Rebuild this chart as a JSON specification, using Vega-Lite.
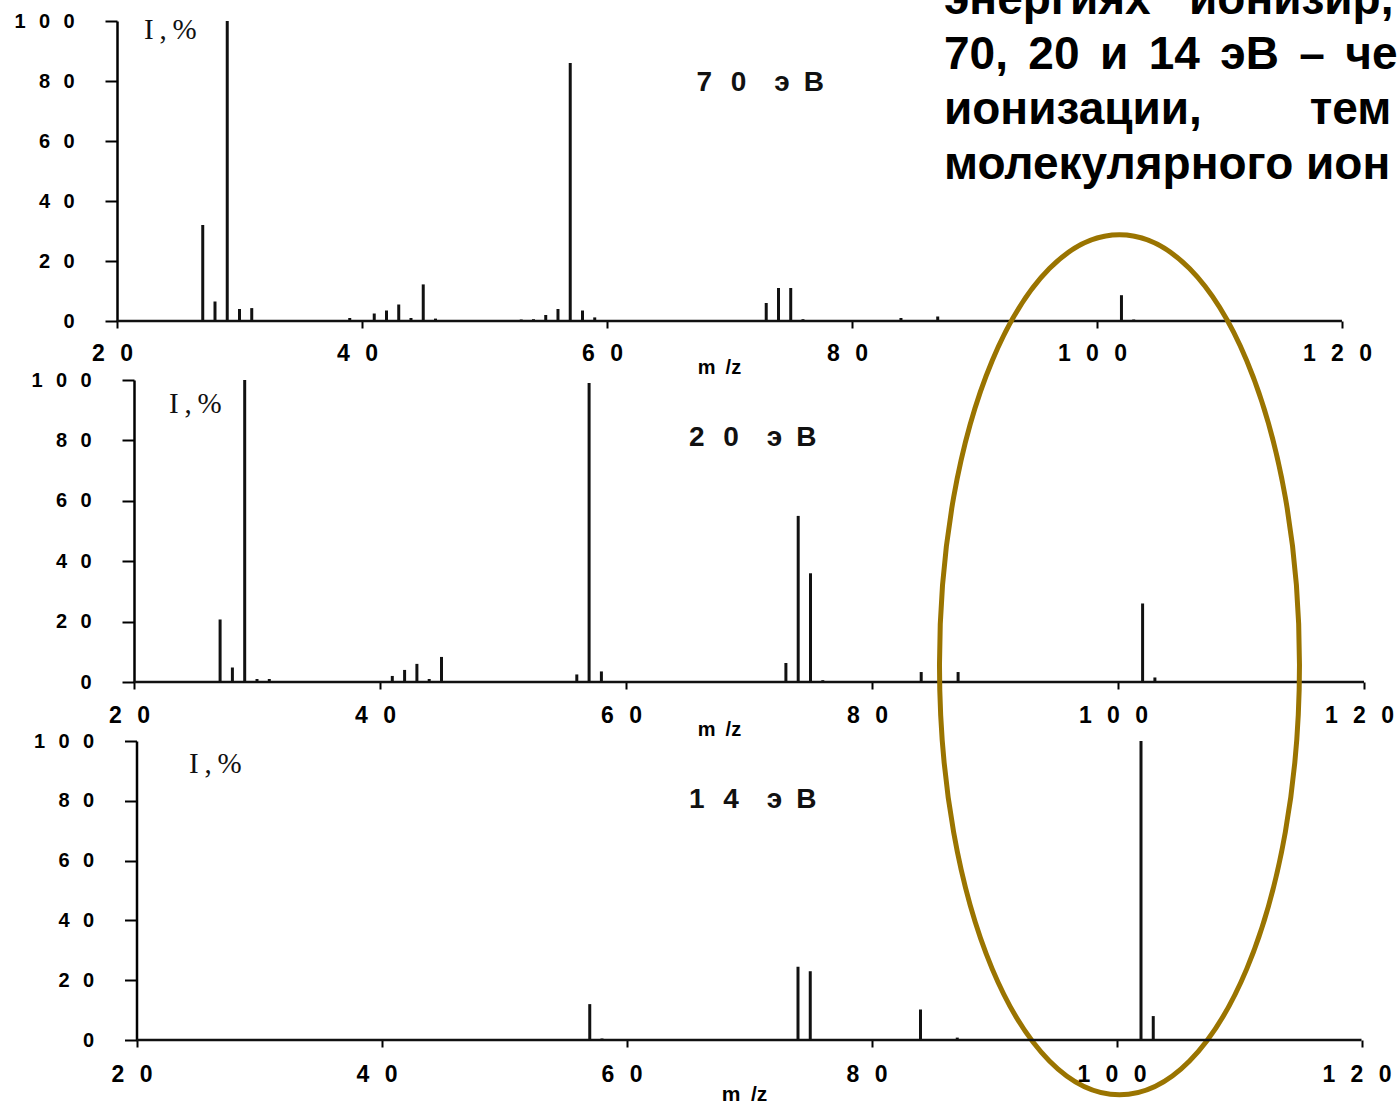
{
  "$schema": "https://vega.github.io/schema/vega-lite/v6.json",
  "background": "white",
  "padding": {"left": 13, "top": -23, "right": 0, "bottom": 0},
  "bounds": "flush",
  "spacing": 59,
  "config": {
    "view": {"stroke": null},
    "axis": {"grid": false, "domainColor": "black", "tickColor": "black", "labelColor": "black", "labelFont": "Liberation Sans", "labelFontWeight": "bold", "domainWidth": 2.5, "tickWidth": 2, "labelFlush": false, "labelOverlap": false}
  },
  "datasets": {
    "peaks": [
      {"ev": 70, "mz": 27, "I": 32}, {"ev": 70, "mz": 28, "I": 6.5}, {"ev": 70, "mz": 29, "I": 100}, {"ev": 70, "mz": 30, "I": 4}, {"ev": 70, "mz": 31, "I": 4.3},
      {"ev": 70, "mz": 39, "I": 1}, {"ev": 70, "mz": 41, "I": 2.5}, {"ev": 70, "mz": 42, "I": 3.5}, {"ev": 70, "mz": 43, "I": 5.5}, {"ev": 70, "mz": 44, "I": 1},
      {"ev": 70, "mz": 45, "I": 12.2}, {"ev": 70, "mz": 46, "I": 0.8}, {"ev": 70, "mz": 53, "I": 0.5}, {"ev": 70, "mz": 54, "I": 0.6}, {"ev": 70, "mz": 55, "I": 2},
      {"ev": 70, "mz": 56, "I": 4}, {"ev": 70, "mz": 57, "I": 86}, {"ev": 70, "mz": 58, "I": 3.5}, {"ev": 70, "mz": 59, "I": 1.2}, {"ev": 70, "mz": 73, "I": 6},
      {"ev": 70, "mz": 74, "I": 11}, {"ev": 70, "mz": 75, "I": 11}, {"ev": 70, "mz": 76, "I": 0.6}, {"ev": 70, "mz": 84, "I": 1}, {"ev": 70, "mz": 87, "I": 1.5},
      {"ev": 70, "mz": 102, "I": 8.6}, {"ev": 70, "mz": 103, "I": 0.5},
      {"ev": 20, "mz": 27, "I": 20.7}, {"ev": 20, "mz": 28, "I": 4.8}, {"ev": 20, "mz": 29, "I": 100}, {"ev": 20, "mz": 30, "I": 1}, {"ev": 20, "mz": 31, "I": 1},
      {"ev": 20, "mz": 41, "I": 2}, {"ev": 20, "mz": 42, "I": 4}, {"ev": 20, "mz": 43, "I": 6}, {"ev": 20, "mz": 44, "I": 1}, {"ev": 20, "mz": 45, "I": 8.3},
      {"ev": 20, "mz": 56, "I": 2.5}, {"ev": 20, "mz": 57, "I": 99}, {"ev": 20, "mz": 58, "I": 3.5}, {"ev": 20, "mz": 73, "I": 6.3}, {"ev": 20, "mz": 74, "I": 55},
      {"ev": 20, "mz": 75, "I": 36}, {"ev": 20, "mz": 76, "I": 0.6}, {"ev": 20, "mz": 84, "I": 3.3}, {"ev": 20, "mz": 87, "I": 3.3}, {"ev": 20, "mz": 102, "I": 26},
      {"ev": 20, "mz": 103, "I": 1.5},
      {"ev": 14, "mz": 57, "I": 12}, {"ev": 14, "mz": 58, "I": 0.5}, {"ev": 14, "mz": 74, "I": 24.5}, {"ev": 14, "mz": 75, "I": 23}, {"ev": 14, "mz": 84, "I": 10.2},
      {"ev": 14, "mz": 87, "I": 0.8}, {"ev": 14, "mz": 102, "I": 100}, {"ev": 14, "mz": 103, "I": 8}
    ]
  },
  "vconcat": [
    {
      "width": 1247, "height": 300,
      "layer": [
        {
          "data": {"name": "peaks"},
          "transform": [{"filter": "datum.ev == 70"}],
          "mark": {"type": "rule", "color": "#111111", "strokeWidth": 3},
          "encoding": {
            "x": {"field": "mz", "type": "quantitative", "scale": {"domain": [20, 121.8], "nice": false, "zero": false},
              "axis": {"values": [20, 40, 60, 80, 100, 120], "domain": false, "tickSize": 7, "labelFontSize": 23, "labelPadding": 14, "labelOffset": -5,
                "labelExpr": "join(split(datum.label,''),'\u2002\u2006')",
                "title": "m\u2002/z", "titleFont": "Liberation Sans", "titleFontWeight": "bold", "titleFontSize": 20, "titleColor": "black",
                "titleX": 602, "titleY": 36, "titleBaseline": "top", "titleAlign": "center", "titleAnchor": null}},
            "y": {"field": "I", "type": "quantitative", "scale": {"domain": [0, 100], "nice": false},
              "axis": {"values": [0, 20, 40, 60, 80, 100], "tickSize": 12, "labelFontSize": 20, "labelPadding": 31,
                "labelExpr": "join(split(datum.label,''),'\u2002\u2006')", "title": null}},
            "y2": {"datum": 0}
          }
        },
        {
          "data": {"values": [{}]},
          "mark": {"type": "rule", "color": "#111111", "strokeWidth": 2.5},
          "encoding": {"x": {"datum": 20}, "x2": {"datum": 120}, "y": {"datum": 0}}
        },
        {
          "data": {"values": [{"t": "I\u2009,\u2009%"}]},
          "mark": {"type": "text", "align": "left", "baseline": "alphabetic", "font": "Liberation Serif", "fontSize": 29, "color": "#111111"},
          "encoding": {"x": {"datum": 22.2}, "y": {"datum": 94}, "text": {"field": "t"}}
        },
        {
          "data": {"values": [{"t": "7\u2002\u20060\u2003э\u2002В"}]},
          "mark": {"type": "text", "align": "left", "baseline": "alphabetic", "font": "Liberation Sans", "fontWeight": "bold", "fontSize": 28, "color": "#111111"},
          "encoding": {"x": {"datum": 67.3}, "y": {"datum": 76.7}, "text": {"field": "t"}}
        },
        {
          "data": {"values": [{}]},
          "mark": {"type": "text", "align": "left", "baseline": "alphabetic", "font": "Liberation Sans", "fontWeight": "bold", "fontSize": 46, "lineHeight": 55, "color": "black",
            "text": ["энергиях\u00a0\u00a0\u00a0ионизир,", "70,\u00a0\u200620\u00a0\u2006и\u00a0\u200614\u00a0\u2006эВ\u00a0\u2006–\u00a0\u2006че", "ионизации,\u00a0\u00a0\u00a0\u00a0\u00a0\u00a0\u00a0\u2009\u2009тем", "молекулярного ион"]},
          "encoding": {"x": {"datum": 87.51}, "y": {"datum": 102.33}}
        }
      ]
    },
    {
      "width": 1247, "height": 302,
      "layer": [
        {
          "data": {"name": "peaks"},
          "transform": [{"filter": "datum.ev == 20"}],
          "mark": {"type": "rule", "color": "#111111", "strokeWidth": 3},
          "encoding": {
            "x": {"field": "mz", "type": "quantitative", "scale": {"domain": [18.618, 120], "nice": false, "zero": false},
              "axis": {"values": [20, 40, 60, 80, 100, 120], "domain": false, "tickSize": 7, "labelFontSize": 23, "labelPadding": 15, "labelOffset": -5,
                "labelExpr": "join(split(datum.label,''),'\u2002\u2006')",
                "title": "m\u2002/z", "titleFont": "Liberation Sans", "titleFontWeight": "bold", "titleFontSize": 20, "titleColor": "black",
                "titleX": 602, "titleY": 37, "titleBaseline": "top", "titleAlign": "center", "titleAnchor": null}},
            "y": {"field": "I", "type": "quantitative", "scale": {"domain": [0, 100], "nice": false},
              "axis": {"values": [0, 20, 40, 60, 80, 100], "tickSize": 12, "labelFontSize": 20, "labelPadding": 31, "offset": -17,
                "labelExpr": "join(split(datum.label,''),'\u2002\u2006')", "title": null}},
            "y2": {"datum": 0}
          }
        },
        {
          "data": {"values": [{}]},
          "mark": {"type": "rule", "color": "#111111", "strokeWidth": 2.5},
          "encoding": {"x": {"datum": 20}, "x2": {"datum": 120}, "y": {"datum": 0}}
        },
        {
          "data": {"values": [{"t": "I\u2009,\u2009%"}]},
          "mark": {"type": "text", "align": "left", "baseline": "alphabetic", "font": "Liberation Serif", "fontSize": 29, "color": "#111111"},
          "encoding": {"x": {"datum": 22.85}, "y": {"datum": 89}, "text": {"field": "t"}}
        },
        {
          "data": {"values": [{"t": "2\u2002\u20060\u2003э\u2002В"}]},
          "mark": {"type": "text", "align": "left", "baseline": "alphabetic", "font": "Liberation Sans", "fontWeight": "bold", "fontSize": 28, "color": "#111111"},
          "encoding": {"x": {"datum": 65.12}, "y": {"datum": 78}, "text": {"field": "t"}}
        },
        {
          "data": {"values": [{}]},
          "mark": {"type": "point", "shape": "M0,-1A0.4186,1,0,1,1,0,1A0.4186,1,0,1,1,0,-1Z", "filled": false, "stroke": "#9a7400", "strokeWidth": 5, "size": 739600, "opacity": 1},
          "encoding": {"x": {"datum": 100.12}, "y": {"datum": 5.7}}
        }
      ]
    },
    {
      "width": 1247, "height": 299,
      "layer": [
        {
          "data": {"name": "peaks"},
          "transform": [{"filter": "datum.ev == 14"}],
          "mark": {"type": "rule", "color": "#111111", "strokeWidth": 3},
          "encoding": {
            "x": {"field": "mz", "type": "quantitative", "scale": {"domain": [18.408, 120.204], "nice": false, "zero": false},
              "axis": {"values": [20, 40, 60, 80, 100, 120], "domain": false, "tickSize": 7, "labelFontSize": 23, "labelPadding": 16, "labelOffset": -5,
                "labelExpr": "join(split(datum.label,''),'\u2002\u2006')",
                "title": "m\u2002/z", "titleFont": "Liberation Sans", "titleFontWeight": "bold", "titleFontSize": 21, "titleColor": "black",
                "titleX": 627, "titleY": 43, "titleBaseline": "top", "titleAlign": "center", "titleAnchor": null}},
            "y": {"field": "I", "type": "quantitative", "scale": {"domain": [0, 100], "nice": false},
              "axis": {"values": [0, 20, 40, 60, 80, 100], "tickSize": 12, "labelFontSize": 20, "labelPadding": 31, "offset": -19.5,
                "labelExpr": "join(split(datum.label,''),'\u2002\u2006')", "title": null}},
            "y2": {"datum": 0}
          }
        },
        {
          "data": {"values": [{}]},
          "mark": {"type": "rule", "color": "#111111", "strokeWidth": 2.5},
          "encoding": {"x": {"datum": 20}, "x2": {"datum": 120}, "y": {"datum": 0}}
        },
        {
          "data": {"values": [{"t": "I\u2009,\u2009%"}]},
          "mark": {"type": "text", "align": "left", "baseline": "alphabetic", "font": "Liberation Serif", "fontSize": 29, "color": "#111111"},
          "encoding": {"x": {"datum": 24.29}, "y": {"datum": 89.3}, "text": {"field": "t"}}
        },
        {
          "data": {"values": [{"t": "1\u2002\u20064\u2003э\u2002В"}]},
          "mark": {"type": "text", "align": "left", "baseline": "alphabetic", "font": "Liberation Sans", "fontWeight": "bold", "fontSize": 28, "color": "#111111"},
          "encoding": {"x": {"datum": 65.1}, "y": {"datum": 77.6}, "text": {"field": "t"}}
        }
      ]
    }
  ]
}
